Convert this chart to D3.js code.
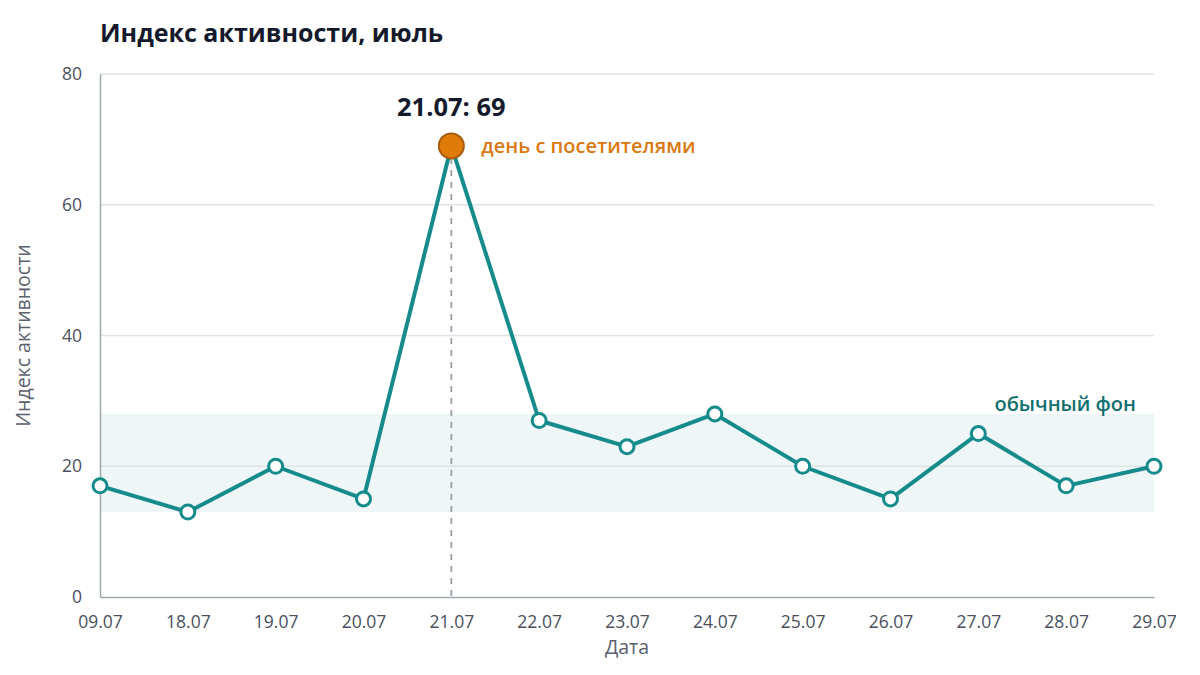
<!DOCTYPE html>
<html>
<head>
<meta charset="utf-8">
<script src="https://cdn.jsdelivr.net/npm/d3@7"></script>
<style>
  body { margin: 0; background: #fff; }
  svg { font-family: "Open Sans", "Noto Sans", sans-serif; }
</style>
</head>
<body>
<script>
// data
var dates = ["09.07", "18.07", "19.07", "20.07", "21.07", "22.07", "23.07",
             "24.07", "25.07", "26.07", "27.07", "28.07", "29.07"];
var values = [17, 13, 20, 15, 69, 27, 23, 28, 20, 15, 25, 17, 20];
var yTicks = [0, 20, 40, 60, 80];
var band = [13, 28];
var peakDate = "21.07";

var width = 1200, height = 675;
var margin = {top: 74, right: 46, bottom: 78, left: 100};

var svg = d3.select("body")
  .append("svg")
  .attr("width", width)
  .attr("height", height);

var x = d3.scalePoint()
  .domain(dates)
  .range([margin.left, width - margin.right]);

var y = d3.scaleLinear()
  .domain([0, 80])
  .range([height - margin.bottom, margin.top]);

// title
svg.append("text")
  .attr("x", 100)
  .attr("y", 42)
  .style("font-size", "25px")
  .style("font-weight", "bold")
  .style("fill", "#141a2b")
  .text("Индекс активности, июль");

// normal band
svg.append("rect")
  .attr("x", margin.left)
  .attr("y", y(band[1]))
  .attr("width", x.range()[1] - margin.left)
  .attr("height", y(band[0]) - y(band[1]))
  .style("fill", "#eef6f8");

// gridlines
svg.append("g")
  .selectAll("line")
  .data(yTicks.filter(function(d) { return d > 0; }))
  .enter()
  .append("line")
    .attr("x1", margin.left)
    .attr("x2", width - margin.right)
    .attr("y1", function(d) { return y(d); })
    .attr("y2", function(d) { return y(d); })
    .style("stroke", "#dde3e6")
    .style("stroke-width", 1.3);

// axes
var yAxis = svg.append("g")
  .attr("transform", "translate(" + margin.left + ",0)")
  .call(d3.axisLeft(y).tickValues(yTicks).tickSize(0).tickPadding(18));

var xAxis = svg.append("g")
  .attr("transform", "translate(0," + (height - margin.bottom) + ")")
  .call(d3.axisBottom(x).tickSize(0).tickPadding(19));

[xAxis, yAxis].forEach(function(g) {
  g.select(".domain").style("stroke", "#9eaaab").style("stroke-width", 1.5);
  g.selectAll("text")
    .style("font-family", "\"Open Sans\", sans-serif")
    .style("font-size", "17.5px")
    .style("fill", "#4a5060");
});

// axis titles
svg.append("text")
  .attr("x", x.range()[0] + (x.range()[1] - x.range()[0]) / 2)
  .attr("y", 654)
  .style("text-anchor", "middle")
  .style("font-size", "19.5px")
  .style("fill", "#5a606e")
  .text("Дата");

svg.append("text")
  .attr("transform", "translate(30," + y(40) + ") rotate(-90)")
  .style("text-anchor", "middle")
  .style("font-size", "19.5px")
  .style("fill", "#5a606e")
  .text("Индекс активности");

// peak dashed drop line
var peakIdx = dates.indexOf(peakDate);
svg.append("line")
  .attr("x1", x(peakDate))
  .attr("x2", x(peakDate))
  .attr("y1", y(values[peakIdx]))
  .attr("y2", y(0))
  .style("stroke", "#9aa0a8")
  .style("stroke-width", 1.8)
  .style("stroke-dasharray", "6,6");

// line
var line = d3.line()
  .x(function(d, i) { return x(dates[i]); })
  .y(function(d) { return y(d); });

svg.append("path")
  .datum(values)
  .attr("d", line)
  .style("fill", "none")
  .style("stroke", "#168b8c")
  .style("stroke-width", 4)
  .style("stroke-linejoin", "round");

// points (peak drawn separately)
svg.append("g")
  .selectAll("circle")
  .data(values.map(function(v, i) { return {v: v, i: i}; })
    .filter(function(d) { return d.i !== peakIdx; }))
  .enter()
  .append("circle")
    .attr("cx", function(d) { return x(dates[d.i]); })
    .attr("cy", function(d) { return y(d.v); })
    .attr("r", 7)
    .style("fill", "#fff")
    .style("stroke", "#168b8c")
    .style("stroke-width", 3);

// peak point
svg.append("circle")
  .attr("cx", x(peakDate))
  .attr("cy", y(values[peakIdx]))
  .attr("r", 12.5)
  .style("fill", "#e07b0a")
  .style("stroke", "#a85c0c")
  .style("stroke-width", 2);

svg.append("text")
  .attr("x", x(peakDate))
  .attr("y", y(values[peakIdx]) - 30)
  .style("text-anchor", "middle")
  .style("font-size", "25.5px")
  .style("font-weight", "bold")
  .style("fill", "#141a2b")
  .text(peakDate + ": " + values[peakIdx]);

svg.append("text")
  .attr("x", x(peakDate) + 30)
  .attr("y", y(values[peakIdx]) + 7)
  .style("font-size", "20px")
  .style("font-weight", "600")
  .style("fill", "#d9790f")
  .text("день с посетителями");

svg.append("text")
  .attr("x", x.range()[1] - 18)
  .attr("y", y(band[1]) - 3)
  .style("text-anchor", "end")
  .style("font-size", "20px")
  .style("font-weight", "600")
  .style("fill", "#126f70")
  .text("обычный фон");
</script>
</body>
</html>
